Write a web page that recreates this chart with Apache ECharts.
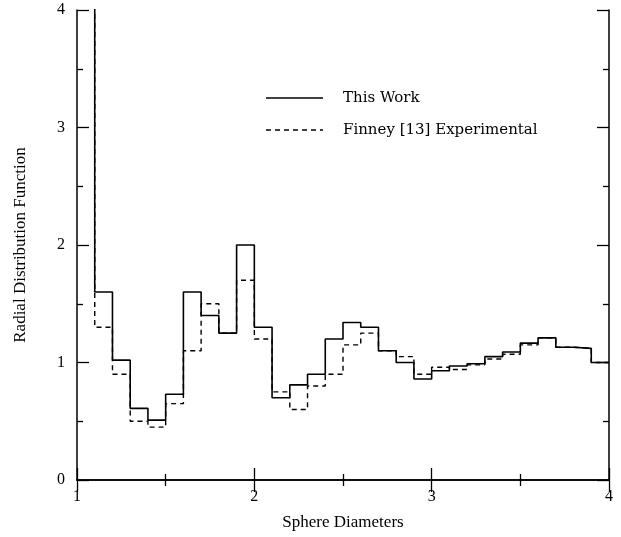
<!DOCTYPE html>
<html>
<head>
<meta charset="utf-8">
<script src="https://cdn.jsdelivr.net/npm/echarts@6/dist/echarts.min.js"></script>
<style>
  html, body { margin: 0; padding: 0; background: #fff; }
  #chart { width: 621px; height: 537px; }
</style>
</head>
<body>
<div id="chart"></div>
<script>
// Histogram bin left edges (width 0.1), plus the closing edge at 4.0
const binEdges = [1.0, 1.1, 1.2, 1.3, 1.4, 1.5, 1.6, 1.7, 1.8, 1.9,
                  2.0, 2.1, 2.2, 2.3, 2.4, 2.5, 2.6, 2.7, 2.8, 2.9,
                  3.0, 3.1, 3.2, 3.3, 3.4, 3.5, 3.6, 3.7, 3.8, 3.9, 4.0];

// Radial distribution function per bin (first bin runs off the top)
const thisWork = [6.0, 1.6, 1.02, 0.61, 0.51, 0.73, 1.6, 1.4, 1.25, 2.0,
                  1.3, 0.7, 0.81, 0.9, 1.2, 1.34, 1.3, 1.1, 1.0, 0.86,
                  0.93, 0.97, 0.99, 1.05, 1.09, 1.165, 1.21, 1.13, 1.12, 1.0];

const finney = [5.5, 1.3, 0.9, 0.5, 0.45, 0.65, 1.1, 1.5, 1.25, 1.7,
                1.2, 0.75, 0.6, 0.8, 0.9, 1.15, 1.25, 1.1, 1.05, 0.9,
                0.96, 0.94, 0.98, 1.03, 1.07, 1.15, 1.21, 1.13, 1.12, 1.0];

const seriesNames = ['This Work', 'Finney [13] Experimental'];
const xTicks = [1, 2, 3, 4];
const yTicks = [0, 1, 2, 3, 4];

// Step points: each bin value starts at its left edge; repeat the last value at the right edge
function stepPoints(vals) {
  const pts = vals.map((v, i) => [binEdges[i], v]);
  pts.push([binEdges[vals.length], vals[vals.length - 1]]);
  return pts;
}

const FONT = 'Liberation Serif';
const LEGEND_FONT = 'DejaVu Serif';
const chart = echarts.init(document.getElementById('chart'), null, { renderer: 'canvas' });

const baseAxis = {
  axisLine: { show: true, lineStyle: { color: '#000', width: 1.5 } },
  axisTick: { show: true, inside: true, length: 12, lineStyle: { color: '#000', width: 1.3 } },
  minorTick: { show: true, splitNumber: 2, length: 6, lineStyle: { color: '#000', width: 1.3 } },
  splitLine: { show: false },
  minorSplitLine: { show: false }
};

// Key drawn inside the plot: a sample line and its caption per series
const legendRows = [
  { y: 98, dash: null, label: seriesNames[0] },
  { y: 130, dash: [5, 4], label: seriesNames[1] }
];
const legendGraphics = [];
legendRows.forEach(r => {
  legendGraphics.push({
    type: 'line', z: 10,
    shape: { x1: 266, y1: r.y, x2: 323, y2: r.y },
    style: { stroke: '#000', lineWidth: r.dash ? 1.4 : 1.6, lineDash: r.dash || null }
  });
  legendGraphics.push({
    type: 'text', z: 10, x: 343, y: r.y,
    style: { text: r.label, fill: '#000', font: '15px "' + LEGEND_FONT + '"', textVerticalAlign: 'middle', verticalAlign: 'middle' }
  });
});

chart.setOption({
  animation: false,
  backgroundColor: '#fff',
  grid: { left: 77, right: 12, top: 10, bottom: 57, containLabel: false },
  graphic: legendGraphics,
  xAxis: [
    Object.assign({}, baseAxis, {
      type: 'value', min: xTicks[0], max: xTicks[xTicks.length - 1], interval: 1,
      position: 'bottom',
      name: 'Sphere Diameters', nameLocation: 'middle', nameGap: 34,
      nameTextStyle: { fontFamily: FONT, fontSize: 17, color: '#000' },
      axisLabel: { fontFamily: FONT, fontSize: 16, color: '#000', margin: 9 }
    }),
    Object.assign({}, baseAxis, {
      type: 'value', min: xTicks[0], max: xTicks[xTicks.length - 1], interval: 1,
      position: 'top', axisLabel: { show: false }
    })
  ],
  yAxis: [
    Object.assign({}, baseAxis, {
      type: 'value', min: yTicks[0], max: yTicks[yTicks.length - 1], interval: 1,
      position: 'left',
      name: 'Radial Distribution Function', nameLocation: 'middle', nameGap: 48,
      nameTextStyle: { fontFamily: FONT, fontSize: 17, color: '#000' },
      axisLabel: { fontFamily: FONT, fontSize: 16, color: '#000', margin: 12 }
    }),
    Object.assign({}, baseAxis, {
      type: 'value', min: yTicks[0], max: yTicks[yTicks.length - 1], interval: 1,
      position: 'right', axisLabel: { show: false }
    })
  ],
  series: [
    {
      name: seriesNames[1], type: 'line', step: 'end', showSymbol: false, symbol: 'none',
      clip: true, z: 2,
      lineStyle: { color: '#000', width: 1.4, type: [5, 4] },
      data: stepPoints(finney)
    },
    {
      name: seriesNames[0], type: 'line', step: 'end', showSymbol: false, symbol: 'none',
      clip: true, z: 3,
      lineStyle: { color: '#000', width: 1.6, type: 'solid' },
      data: stepPoints(thisWork)
    }
  ]
});
</script>
</body>
</html>
